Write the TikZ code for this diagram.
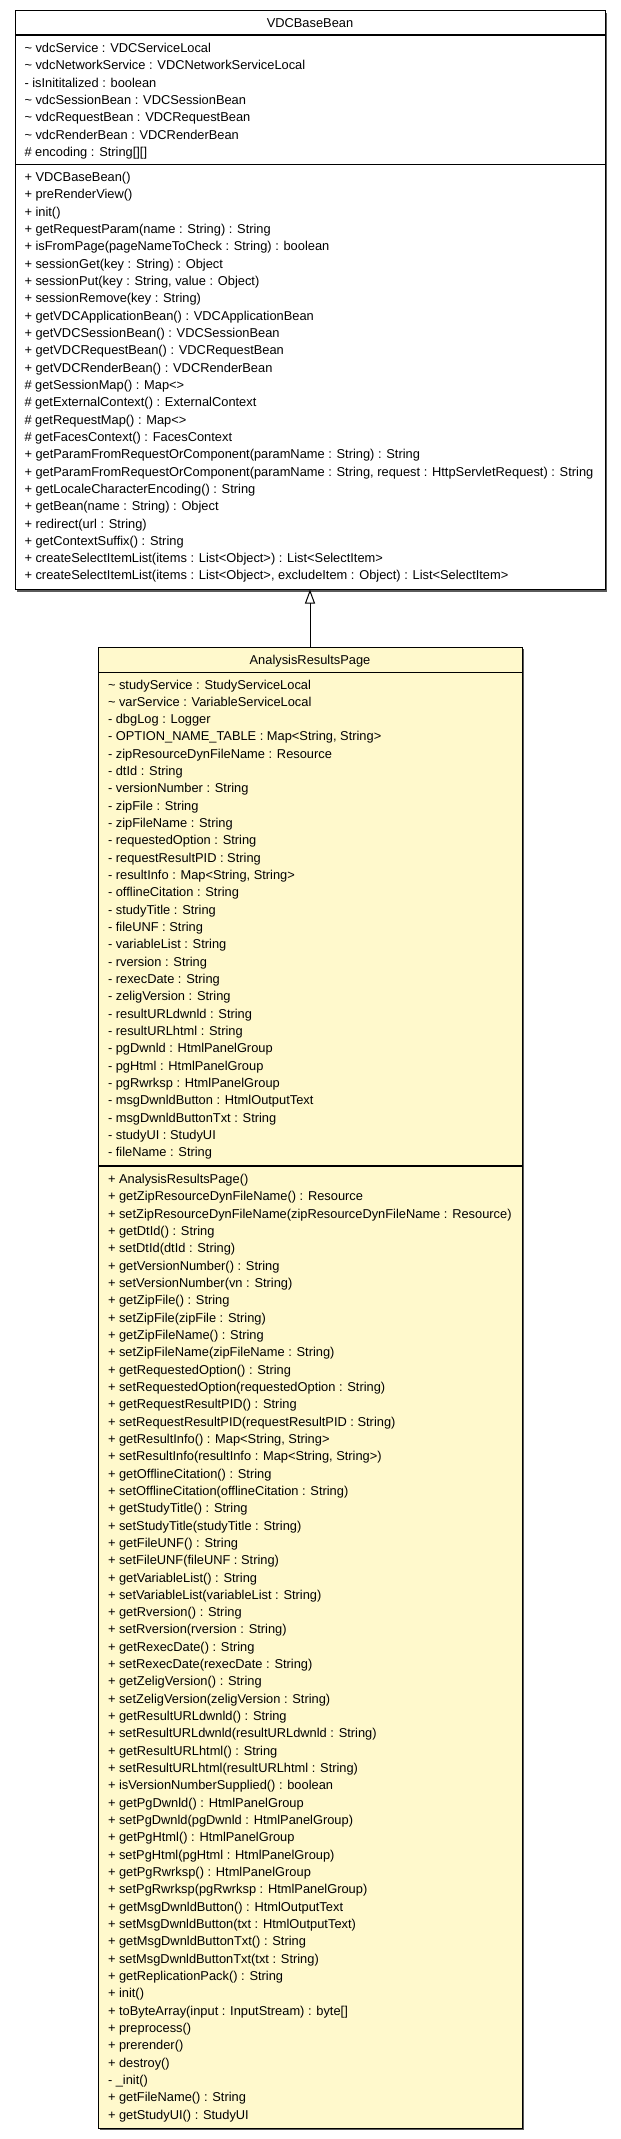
\documentclass[tikz,border=0pt]{standalone}
\usepackage{fontspec}
\setmainfont{Liberation Sans}
\usetikzlibrary{arrows.meta}
\definecolor{classfill}{HTML}{FFF9CC}
\definecolor{shadowgray}{HTML}{5A5A5A}
\newcommand{\pkg}{\textasciitilde\ }
\begin{document}
\begin{tikzpicture}[x=1pt,y=-1pt,
  every node/.style={inner sep=0pt, outer sep=0pt},
  classbox/.style={draw=black, line width=1pt, anchor=north west},
  shade/.style={fill=shadowgray, draw=none},
  sepline/.style={line width=1.5pt, draw=black},
  rows/.style={anchor=base west, font=\fontsize{12.85}{17.33}\selectfont},
  ctitle/.style={anchor=base, font=\fontsize{12.85}{17.33}\selectfont},
  gen/.style={line width=1pt, -{Triangle[open, length=14pt, width=10pt]}}]
\useasboundingbox (0,0) rectangle (621,2139);
% shadows
\fill[shade] (17,12.5) rectangle (607,591.5);
\fill[shade] (100,649) rectangle (524,2130);
% boxes
\node[classbox, fill=white, minimum width=590pt, minimum height=579pt] (base) at (15,10.5) {};
\node[classbox, fill=classfill, minimum width=424pt, minimum height=1481pt] (sub) at (98,647) {};
% compartment separators
\draw[sepline] (base.west |- 0,35) -- (base.east |- 0,35);
\draw[sepline] (base.west |- 0,164.7) -- (base.east |- 0,164.7);
\draw[sepline] (sub.west |- 0,672.5) -- (sub.east |- 0,672.5);
\draw[sepline] (sub.west |- 0,1166) -- (sub.east |- 0,1166);
% titles
\node[ctitle] (basetitle) at (310,27.4) {VDCBaseBean};
\node[ctitle] (subtitle) at (310,664.2) {AnalysisResultsPage};
% VDCBaseBean attributes
\node[rows] (baseattrs) at (24.5,52.4) {\begin{tabular}[t]{@{}l@{}}
\pkg vdcService : VDCServiceLocal\\
\pkg vdcNetworkService : VDCNetworkServiceLocal\\
- isInititalized : boolean\\
\pkg vdcSessionBean : VDCSessionBean\\
\pkg vdcRequestBean : VDCRequestBean\\
\pkg vdcRenderBean : VDCRenderBean\\
\# encoding : String[][]
\end{tabular}};
% VDCBaseBean methods
\node[rows] (baseops) at (24.5,181.4) {\begin{tabular}[t]{@{}l@{}}
+ VDCBaseBean()\\
+ preRenderView()\\
+ init()\\
+ getRequestParam(name : String) : String\\
+ isFromPage(pageNameToCheck : String) : boolean\\
+ sessionGet(key : String) : Object\\
+ sessionPut(key : String, value : Object)\\
+ sessionRemove(key : String)\\
+ getVDCApplicationBean() : VDCApplicationBean\\
+ getVDCSessionBean() : VDCSessionBean\\
+ getVDCRequestBean() : VDCRequestBean\\
+ getVDCRenderBean() : VDCRenderBean\\
\# getSessionMap() : Map<>\\
\# getExternalContext() : ExternalContext\\
\# getRequestMap() : Map<>\\
\# getFacesContext() : FacesContext\\
+ getParamFromRequestOrComponent(paramName : String) : String\\
+ getParamFromRequestOrComponent(paramName : String, request : HttpServletRequest) : String\\
+ getLocaleCharacterEncoding() : String\\
+ getBean(name : String) : Object\\
+ redirect(url : String)\\
+ getContextSuffix() : String\\
+ createSelectItemList(items : List<Object>) : List<SelectItem>\\
+ createSelectItemList(items : List<Object>, excludeItem : Object) : List<SelectItem>
\end{tabular}};
% AnalysisResultsPage attributes
\node[rows] (subattrs) at (108,689) {\begin{tabular}[t]{@{}l@{}}
\pkg studyService : StudyServiceLocal\\
\pkg varService : VariableServiceLocal\\
- dbgLog : Logger\\
- OPTION\_NAME\_TABLE : Map<String, String>\\
- zipResourceDynFileName : Resource\\
- dtId : String\\
- versionNumber : String\\
- zipFile : String\\
- zipFileName : String\\
- requestedOption : String\\
- requestResultPID : String\\
- resultInfo : Map<String, String>\\
- offlineCitation : String\\
- studyTitle : String\\
- fileUNF : String\\
- variableList : String\\
- rversion : String\\
- rexecDate : String\\
- zeligVersion : String\\
- resultURLdwnld : String\\
- resultURLhtml : String\\
- pgDwnld : HtmlPanelGroup\\
- pgHtml : HtmlPanelGroup\\
- pgRwrksp : HtmlPanelGroup\\
- msgDwnldButton : HtmlOutputText\\
- msgDwnldButtonTxt : String\\
- studyUI : StudyUI\\
- fileName : String
\end{tabular}};
% AnalysisResultsPage methods
\node[rows] (subops) at (108,1183.4) {\begin{tabular}[t]{@{}l@{}}
+ AnalysisResultsPage()\\
+ getZipResourceDynFileName() : Resource\\
+ setZipResourceDynFileName(zipResourceDynFileName : Resource)\\
+ getDtId() : String\\
+ setDtId(dtId : String)\\
+ getVersionNumber() : String\\
+ setVersionNumber(vn : String)\\
+ getZipFile() : String\\
+ setZipFile(zipFile : String)\\
+ getZipFileName() : String\\
+ setZipFileName(zipFileName : String)\\
+ getRequestedOption() : String\\
+ setRequestedOption(requestedOption : String)\\
+ getRequestResultPID() : String\\
+ setRequestResultPID(requestResultPID : String)\\
+ getResultInfo() : Map<String, String>\\
+ setResultInfo(resultInfo : Map<String, String>)\\
+ getOfflineCitation() : String\\
+ setOfflineCitation(offlineCitation : String)\\
+ getStudyTitle() : String\\
+ setStudyTitle(studyTitle : String)\\
+ getFileUNF() : String\\
+ setFileUNF(fileUNF : String)\\
+ getVariableList() : String\\
+ setVariableList(variableList : String)\\
+ getRversion() : String\\
+ setRversion(rversion : String)\\
+ getRexecDate() : String\\
+ setRexecDate(rexecDate : String)\\
+ getZeligVersion() : String\\
+ setZeligVersion(zeligVersion : String)\\
+ getResultURLdwnld() : String\\
+ setResultURLdwnld(resultURLdwnld : String)\\
+ getResultURLhtml() : String\\
+ setResultURLhtml(resultURLhtml : String)\\
+ isVersionNumberSupplied() : boolean\\
+ getPgDwnld() : HtmlPanelGroup\\
+ setPgDwnld(pgDwnld : HtmlPanelGroup)\\
+ getPgHtml() : HtmlPanelGroup\\
+ setPgHtml(pgHtml : HtmlPanelGroup)\\
+ getPgRwrksp() : HtmlPanelGroup\\
+ setPgRwrksp(pgRwrksp : HtmlPanelGroup)\\
+ getMsgDwnldButton() : HtmlOutputText\\
+ setMsgDwnldButton(txt : HtmlOutputText)\\
+ getMsgDwnldButtonTxt() : String\\
+ setMsgDwnldButtonTxt(txt : String)\\
+ getReplicationPack() : String\\
+ init()\\
+ toByteArray(input : InputStream) : byte[]\\
+ preprocess()\\
+ prerender()\\
+ destroy()\\
- \_init()\\
+ getFileName() : String\\
+ getStudyUI() : StudyUI
\end{tabular}};
% generalization
\draw[gen] (sub.north) -- (base.south);
\end{tikzpicture}
\end{document}
